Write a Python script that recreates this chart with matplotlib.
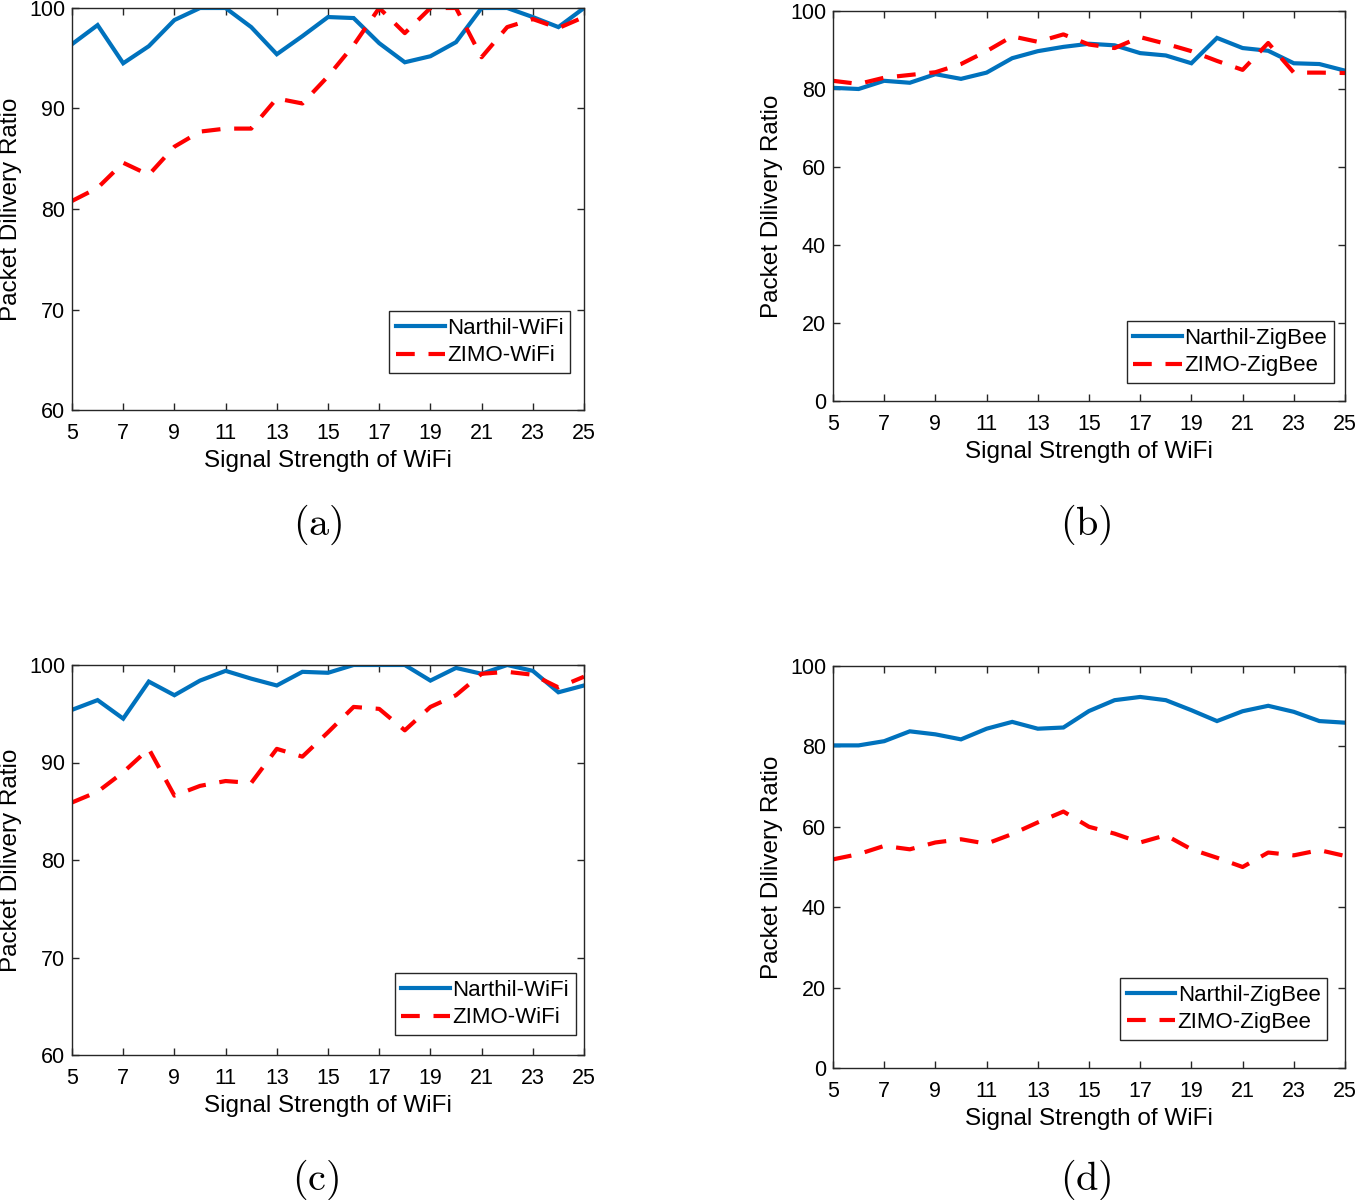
import numpy as np
import matplotlib
matplotlib.use('Agg')
import matplotlib.pyplot as plt

plt.rcParams['font.family'] = ['Liberation Sans', 'DejaVu Sans']
plt.rcParams['mathtext.fontset'] = 'cm'

x = np.arange(5, 26)

# (a) WiFi
narthil_wifi_a = [96.4, 98.3, 94.5, 96.2, 98.8, 100, 100, 98.1, 95.4, 97.2, 99.1,
                  99.0, 96.5, 94.6, 95.2, 96.6, 100, 100, 99.1, 98.1, 100]
zimo_wifi_a = [80.8, 82.1, 84.6, 83.4, 86.2, 87.7, 88.0, 88.0, 91.0, 90.5, 93.2,
               96.3, 100, 97.5, 100, 100, 95.1, 98.1, 98.9, 98.0, 99.1]

# (b) ZigBee
narthil_zigbee_b = [80.3, 80.0, 82.1, 81.6, 83.8, 82.6, 84.2, 87.9, 89.7, 90.8, 91.6,
                    91.2, 89.2, 88.6, 86.6, 93.1, 90.5, 89.8, 86.6, 86.4, 84.7]
zimo_zigbee_b = [82.1, 81.3, 82.9, 83.6, 84.3, 86.4, 89.7, 93.5, 92.1, 94.0, 91.4,
                 90.5, 93.3, 91.6, 89.7, 87.2, 84.9, 91.8, 84.2, 84.2, 84.1]

# (c) WiFi
narthil_wifi_c = [95.4, 96.4, 94.5, 98.3, 96.9, 98.4, 99.4, 98.6, 97.9, 99.3, 99.2,
                  100, 100, 100, 98.4, 99.7, 99.1, 100, 99.4, 97.2, 97.9]
zimo_wifi_c = [85.9, 87.0, 89.0, 91.4, 86.6, 87.6, 88.1, 87.9, 91.4, 90.6, 93.1,
               95.7, 95.5, 93.3, 95.7, 96.9, 99.1, 99.3, 99.0, 97.7, 98.8]

# (d) ZigBee
narthil_zigbee_d = [80.25, 80.25, 81.3, 83.75, 83.0, 81.75, 84.4, 86.1, 84.4, 84.7, 88.8,
                    91.5, 92.3, 91.5, 89.0, 86.3, 88.75, 90.1, 88.6, 86.3, 85.9]
zimo_zigbee_d = [51.9, 53.2, 55.25, 54.4, 56.1, 56.9, 55.8, 58.2, 61.1, 63.8, 60.0,
                 58.3, 56.1, 57.9, 54.4, 52.3, 50.0, 53.6, 52.9, 54.2, 52.75]

blue = '#0072BD'
red = '#FF0000'
W, H = 1357, 1200

fig = plt.figure(figsize=(W / 100, H / 100), dpi=100)

def add_axes(l, r, t, b):
    return fig.add_axes([l / W, 1 - b / H, (r - l) / W, (b - t) / H])

panels = [
    # left, right, top, bottom, series, labels, ylim, yticks, legend anchor, caption x, y
    (72, 584, 8, 410, narthil_wifi_a, zimo_wifi_a, ('Narthil-WiFi', 'ZIMO-WiFi'),
     (60, 100), np.arange(60, 101, 10), (0.973, 0.092), '(a)', 318, 525),
    (833, 1345, 11, 401, narthil_zigbee_b, zimo_zigbee_b, ('Narthil-ZigBee', 'ZIMO-ZigBee'),
     (0, 100), np.arange(0, 101, 20), (0.978, 0.046), '(b)', 1086, 525),
    (72, 584, 665, 1055, narthil_wifi_c, zimo_wifi_c, ('Narthil-WiFi', 'ZIMO-WiFi'),
     (60, 100), np.arange(60, 101, 10), (0.984, 0.051), '(c)', 316, 1180),
    (833, 1345, 666, 1068, narthil_zigbee_d, zimo_zigbee_d, ('Narthil-ZigBee', 'ZIMO-ZigBee'),
     (0, 100), np.arange(0, 101, 20), (0.965, 0.07), '(d)', 1086, 1180),
]

for l, r, t, b, y1, y2, labels, ylim, yticks, anchor, cap, cap_x, cap_y in panels:
    ax = add_axes(l, r, t, b)
    ax.plot(x, y1, color=blue, lw=3, label=labels[0], solid_joinstyle='miter')
    ax.plot(x, y2, color=red, lw=3, dashes=(4.5, 3.3), label=labels[1])
    ax.set_xlim(5, 25)
    ax.set_ylim(*ylim)
    ax.set_xticks(np.arange(5, 26, 2))
    ax.set_yticks(yticks)
    ax.tick_params(direction='in', top=True, right=True, length=5, width=1,
                   labelsize=15.5, color='#262626')
    ax.tick_params(axis='x', pad=9.5)
    ax.tick_params(axis='y', pad=5)
    for s in ax.spines.values():
        s.set_color('#262626')
        s.set_linewidth(1)
    ax.set_xlabel('Signal Strength of WiFi', fontsize=17.5, labelpad=4.5)
    ax.set_ylabel('Packet Dilivery Ratio', fontsize=17.5, labelpad=5)
    leg = ax.legend(loc='lower right', bbox_to_anchor=anchor, borderaxespad=0,
                    fontsize=16, handlelength=2.2, handletextpad=0.1,
                    fancybox=False, framealpha=1, edgecolor='#262626',
                    borderpad=0.3, labelspacing=0.3)
    leg.get_frame().set_linewidth(1)
    fig.text(cap_x / W, 1 - cap_y / H, r'$\mathrm{' + cap + '}$',
             ha='center', va='center', fontsize=29)

fig.savefig('out.png', dpi=100)
